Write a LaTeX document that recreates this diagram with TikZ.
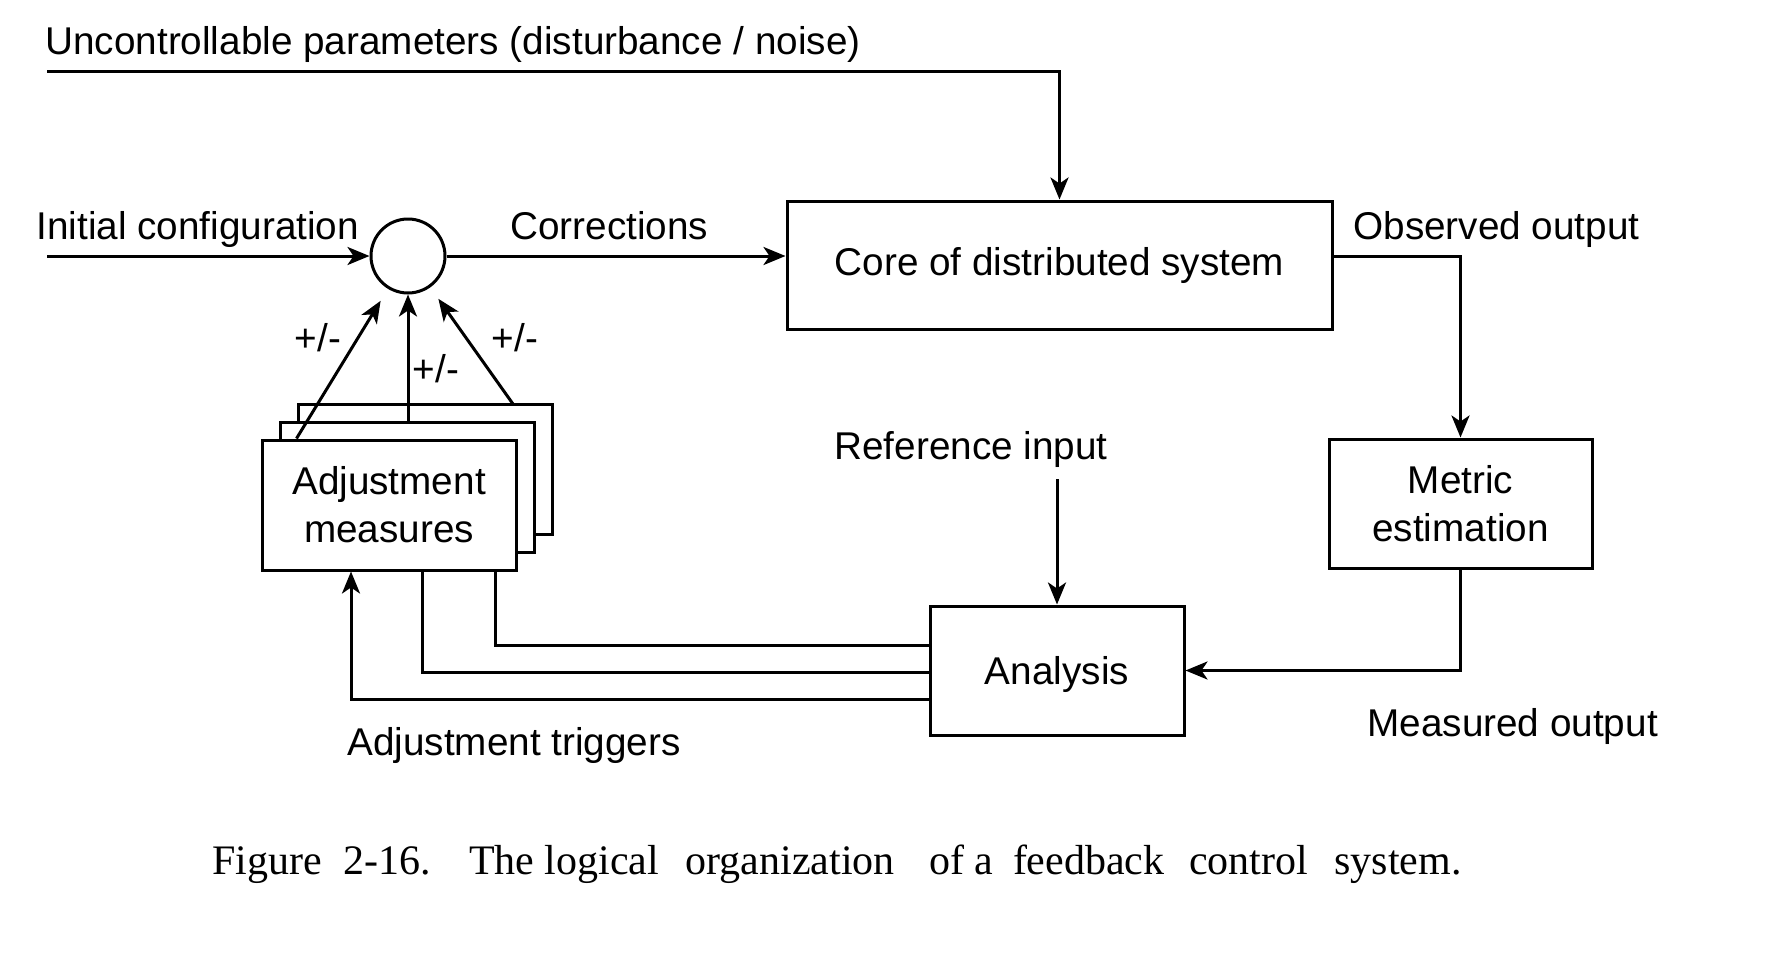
\documentclass[tikz,border=0pt]{standalone}
\usepackage{fontspec}
\setmainfont{Liberation Sans}
\newfontfamily\capfont{Liberation Serif}
\usetikzlibrary{arrows.meta,calc}
\begin{document}
\begin{tikzpicture}[x=0.5pt,y=-0.5pt,
  every node/.style={font=\fontsize{19.35}{24}\selectfont},
  box/.style={draw,line width=1.5pt,inner sep=0pt,align=center,fill=white},
  amb/.style={box,minimum width=127pt,minimum height=65pt},
  lbl/.style={inner sep=0pt,anchor=west},
  conn/.style={line width=1.5pt},
  arr/.style={conn,-{Stealth[length=11pt,width=9pt,inset=3pt]}},
]
\useasboundingbox (0,0) rectangle (1768,958);

% main blocks
\node[box,minimum width=272.5pt,minimum height=64pt] (core) at (1059.5,265) {Core of distributed system};
\node[box,minimum width=131.5pt,minimum height=64.5pt] (metric) at (1460.5,503.5) {Metric\\estimation};
\node[box,minimum width=127pt,minimum height=64.5pt,text height=17.5pt,text depth=4pt] (ana) at (1057,670.5) {Analysis};
\node[amb] (am3) at (425,469) {};
\node[amb] (am2) at (407,487) {};
\node[amb] (am1) at (389,505) {Adjustment\\measures};
\node[draw,circle,line width=1.5pt,minimum size=37pt,inner sep=0pt] (sum) at (408,256) {};

% labels
\node[lbl] (unc) at (45,44) {Uncontrollable parameters (disturbance / noise)};
\node[lbl] (init) at (36,229) {Initial configuration};
\node[lbl] (corr) at (510,226) {Corrections};
\node[lbl] (obs) at (1353,229) {Observed output};
\node[lbl] (ref) at (834,449) {Reference input};
\node[lbl] (meas) at (1367,726) {Measured output};
\node[lbl] (trig) at (347,745) {Adjustment triggers};
\node[inner sep=0pt] (pm1) at (318,338) {+/-};
\node[inner sep=0pt] (pm2) at (436,369) {+/-};
\node[inner sep=0pt] (pm3) at (515,338) {+/-};

% free ends
\coordinate (uncStart) at (47,71);
\coordinate (initStart) at (47,256);
\coordinate (refStart) at (1057,479);
\coordinate (ra) at (513,404);
\coordinate (f1) at (495,645);
\coordinate (f2) at (422,672);
\coordinate (f3) at (351,699);

% connectors
\draw[arr] (uncStart) -| (core.north);
\draw[arr] (initStart) -- (sum.west);
\draw[arr] (sum.east) -- (sum -| core.west);
\draw[arr] (sum -| core.east) -| (metric.north);
\draw[arr] (metric.south) |- (ana.east);
\draw[arr] (refStart) -- (ana.north);
\draw[conn] (ana.west |- f1) -| (am1.south -| f1);
\draw[conn] (ana.west |- f2) -| (am1.south -| f2);
\draw[arr] (ana.west |- f3) -| (am1.south -| f3);
\draw[arr,shorten >=7pt] (am1.north -| am3.west) -- (sum);
\draw[arr] (am2.north -| sum) -- (sum.south);
\draw[arr,shorten >=7pt] (ra) -- (sum);

% caption
\node[anchor=base west,inner sep=0pt,font=\capfont\fontsize{21}{25}\selectfont] (cap) at (212,874)
  {Figure\hspace{5.5pt} 2-16.\hspace{12pt} The logical\hspace{8pt} organization\hspace{12pt} of a\hspace{4.5pt} feedback\hspace{7pt} control\hspace{8pt} system.};
\end{tikzpicture}
\end{document}
